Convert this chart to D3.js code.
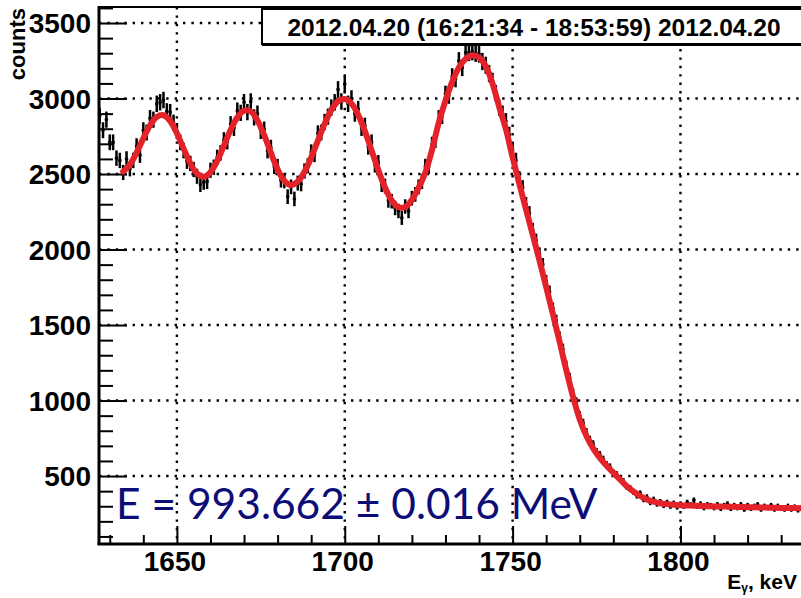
<!DOCTYPE html>
<html>
<head>
<meta charset="utf-8">
<script src="https://cdn.jsdelivr.net/npm/d3@7"></script>
<style>
  body { margin: 0; background: #fff; }
  svg { display: block; font-family: "Liberation Sans", Arial, sans-serif; }
</style>
</head>
<body>
<div id="chart"></div>
<script>
// histogram: counts per 1 keV bin, first bin centred on 1627 keV
var binCenters = d3.range(1627, 1837);
var counts = [
  2885, 2790, 2860, 2710, 2710, 2605, 2590, 2510, 2600, 2535,
  2590, 2685, 2625, 2790, 2775, 2870, 2860, 2965, 2975, 2990,
  2915, 2910, 2840, 2785, 2710, 2655, 2585, 2570, 2530, 2485,
  2430, 2445, 2450, 2525, 2545, 2610, 2640, 2725, 2715, 2830,
  2805, 2920, 2905, 2975, 2910, 2980, 2875, 2900, 2785, 2795,
  2655, 2675, 2550, 2550, 2460, 2455, 2350, 2415, 2335, 2440,
  2435, 2520, 2555, 2645, 2630, 2770, 2775, 2845, 2880, 2940,
  2975, 3060, 2980, 3095, 2965, 3000, 2900, 2930, 2805, 2820,
  2680, 2710, 2560, 2575, 2430, 2420, 2325, 2320, 2275, 2255,
  2210, 2285, 2255, 2340, 2365, 2415, 2450, 2550, 2550, 2695,
  2725, 2870, 2885, 3030, 3020, 3145, 3130, 3250, 3205, 3305,
  3305, 3310, 3300, 3295, 3245, 3220, 3165, 3115, 3035, 2940,
  2900, 2850, 2760, 2660, 2590, 2470, 2410, 2300, 2240, 2130,
  2060, 1970, 1900, 1790, 1720, 1610, 1530, 1420, 1340, 1230,
  1150, 1050, 990, 900, 850, 790, 740, 710, 660, 640,
  610, 575, 560, 520, 510, 480, 465, 430, 420, 395,
  370, 385, 345, 360, 325, 345, 315, 330, 305, 325,
  300, 320, 295, 315, 300, 325, 310, 340, 300, 315,
  290, 310, 305, 290, 310, 285, 305, 315, 285, 305,
  290, 310, 280, 305, 285, 300, 310, 280, 300, 290,
  305, 280, 300, 285, 280, 300, 280, 295, 275, 290
];

// fitted curve, sampled every 2 keV
var fitEnergy = d3.range(1634, 1837, 2);
var fitCounts = [
  2516, 2562, 2642, 2736, 2822, 2878, 2889, 2851, 2770, 2668,
  2571, 2503, 2482, 2512, 2587, 2687, 2791, 2875, 2920, 2914,
  2855, 2757, 2640, 2531, 2455, 2427, 2450, 2514, 2609, 2721,
  2832, 2923, 2982, 2997, 2967, 2892, 2784, 2656, 2526, 2410,
  2324, 2280, 2282, 2330, 2408, 2510, 2660, 2840, 2985, 3110,
  3205, 3262, 3286, 3272, 3215, 3100, 2945, 2798, 2610, 2435,
  2265, 2098, 1928, 1752, 1572, 1390, 1200, 1025, 875, 765,
  683, 620, 568, 522, 478, 432, 398, 368, 345, 330,
  320, 314, 310, 307, 305, 303, 302, 300, 299, 298,
  297, 296, 295, 294, 293, 292, 291, 290, 289, 288,
  288, 287
];

var xTicks = [1650, 1700, 1750, 1800];
var yTicks = [500, 1000, 1500, 2000, 2500, 3000, 3500];
var titleText = "2012.04.20 (16:21:34 - 18:53:59) 2012.04.20";
var resultText = "E = 993.662 \u00b1 0.016 MeV";

var width = 801,
  height = 598;

var svg = d3
  .select("#chart")
  .append("svg")
  .attr("width", width)
  .attr("height", height);

var x = d3.scaleLinear().domain([1626.5, 1836.5]).range([98, 803]);
var y = d3.scaleLinear().domain([50, 3606]).range([544, 7]);

svg.append("clipPath")
  .attr("id", "plot-clip")
  .append("rect")
  .attr("x", 99)
  .attr("y", 7)
  .attr("width", width - 99)
  .attr("height", 537);

// dotted grid
var grid = svg.append("g")
  .attr("stroke", "#000")
  .attr("stroke-width", 2.4)
  .attr("stroke-dasharray", "2.4,6");
grid.selectAll("line.v")
  .data(xTicks)
  .join("line")
  .attr("class", "v")
  .attr("x1", function (d) { return x(d); })
  .attr("x2", function (d) { return x(d); })
  .attr("y1", 7)
  .attr("y2", 544);
grid.selectAll("line.h")
  .data(yTicks)
  .join("line")
  .attr("class", "h")
  .attr("x1", 99)
  .attr("x2", width)
  .attr("y1", function (d) { return y(d); })
  .attr("y2", function (d) { return y(d); });

// axes, ticks pointing into the frame
var xAxis = d3.axisTop(x)
  .tickValues(d3.range(1630, 1837, 10))
  .tickSizeOuter(0)
  .tickSize(9)
  .tickFormat("");
var gx = svg.append("g").attr("transform", "translate(0,544)").call(xAxis);
gx.selectAll(".tick line")
  .attr("stroke-width", 2)
  .attr("y2", function (d) { return d % 50 === 0 ? -18 : -9; });
gx.select(".domain").remove();

var yAxis = d3.axisRight(y)
  .tickValues(d3.range(100, 3601, 100))
  .tickSizeOuter(0)
  .tickSize(14)
  .tickFormat("");
var gy = svg.append("g").attr("transform", "translate(99,0)").call(yAxis);
gy.selectAll(".tick line")
  .attr("stroke-width", 2)
  .attr("x2", function (d) { return d % 500 === 0 ? 28 : 14; });
gy.select(".domain").remove();

// frame lines
svg.append("line")
  .attr("x1", 99).attr("x2", width)
  .attr("y1", 7).attr("y2", 7)
  .attr("stroke", "#000").attr("stroke-width", 2);
svg.append("line")
  .attr("x1", 99).attr("x2", 99)
  .attr("y1", 6).attr("y2", 545)
  .attr("stroke", "#000").attr("stroke-width", 3);
svg.append("line")
  .attr("x1", 97.5).attr("x2", width)
  .attr("y1", 544).attr("y2", 544)
  .attr("stroke", "#000").attr("stroke-width", 3);

// tick labels
svg.append("g")
  .selectAll("text")
  .data(xTicks)
  .join("text")
  .attr("x", function (d) { return x(d) - 2; })
  .attr("y", 571)
  .attr("text-anchor", "middle")
  .attr("font-size", 28)
  .attr("font-weight", "bold")
  .text(function (d) { return d; });

svg.append("g")
  .selectAll("text")
  .data(yTicks)
  .join("text")
  .attr("x", 91)
  .attr("y", function (d) { return y(d) + 10; })
  .attr("text-anchor", "end")
  .attr("font-size", 28)
  .attr("font-weight", "bold")
  .text(function (d) { return d; });

// axis titles
svg.append("text")
  .attr("transform", "translate(25,8) rotate(-90)")
  .attr("text-anchor", "end")
  .attr("font-size", 22)
  .attr("font-weight", "bold")
  .text("counts");

var xTitle = svg.append("text")
  .attr("x", 797)
  .attr("y", 589)
  .attr("text-anchor", "end")
  .attr("font-size", 21)
  .attr("font-weight", "bold");
xTitle.append("tspan").text("E");
xTitle.append("tspan").attr("font-size", 12).attr("dy", 3).text("\u03b3");
xTitle.append("tspan").attr("dy", -3).text(", keV");

// histogram with error bars
var plot = svg.append("g").attr("clip-path", "url(#plot-clip)");
var bins = binCenters.map(function (c, i) {
  return { e: c, n: counts[i] };
});
var hist = plot.append("g").attr("stroke", "#000").attr("stroke-width", 2.5);
hist.selectAll("line.err")
  .data(bins)
  .join("line")
  .attr("class", "err")
  .attr("x1", function (d) { return x(d.e); })
  .attr("x2", function (d) { return x(d.e); })
  .attr("y1", function (d) { return y(d.n - Math.sqrt(d.n)); })
  .attr("y2", function (d) { return y(d.n + Math.sqrt(d.n)); });
hist.selectAll("line.bin")
  .data(bins)
  .join("line")
  .attr("class", "bin")
  .attr("x1", function (d) { return x(d.e - 0.5); })
  .attr("x2", function (d) { return x(d.e + 0.5); })
  .attr("y1", function (d) { return y(d.n); })
  .attr("y2", function (d) { return y(d.n); });

// fit curve
var fitLine = d3.line()
  .x(function (d, i) { return x(fitEnergy[i]); })
  .y(function (d) { return y(d); })
  .curve(d3.curveCatmullRom);
plot.append("path")
  .datum(fitCounts)
  .attr("d", fitLine)
  .attr("fill", "none")
  .attr("stroke", "#e4222a")
  .attr("stroke-width", 6)
  .attr("stroke-linecap", "round");

// result annotation
svg.append("text")
  .attr("x", 116)
  .attr("y", 519)
  .attr("font-family", "Lato, 'Open Sans', sans-serif")
  .attr("font-size", 42.5)
  .attr("fill", "#0d0d78")
  .text(resultText);

// title box
svg.append("rect")
  .attr("x", 262)
  .attr("y", 9)
  .attr("width", 600)
  .attr("height", 35)
  .attr("fill", "#fff")
  .attr("stroke", "#000")
  .attr("stroke-width", 2);
svg.append("line")
  .attr("x1", 262).attr("x2", width)
  .attr("y1", 45).attr("y2", 45)
  .attr("stroke", "#000").attr("stroke-width", 2);
svg.append("text")
  .attr("x", 534)
  .attr("y", 36)
  .attr("text-anchor", "middle")
  .attr("font-size", 24.5)
  .attr("font-weight", "bold")
  .text(titleText);
</script>
</body>
</html>
